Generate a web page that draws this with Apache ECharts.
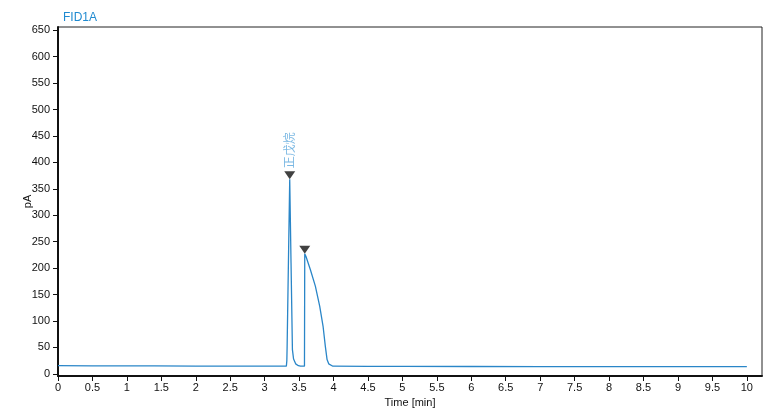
<!DOCTYPE html>
<html>
<head>
<meta charset="utf-8">
<script src="https://cdn.jsdelivr.net/npm/echarts@6/dist/echarts.min.js"></script>
<style>html,body{margin:0;padding:0;background:#fff}#c{width:777px;height:414px}</style>
</head>
<body>
<div id="c"></div>
<script>
// Chromatogram trace (time in min, signal in pA)
var times = [0, 0.5, 1, 1.4, 2, 2.5, 3, 3.315, 3.322, 3.326, 3.345, 3.364, 3.383, 3.403, 3.42, 3.45, 3.49, 3.52, 3.578, 3.582, 3.591, 3.6, 3.664, 3.736, 3.799, 3.848, 3.881, 3.906, 3.93, 3.954, 3.99, 4.5, 5, 6, 7, 8, 9, 10];
var signal = [15.5, 15.3, 15.2, 15.0, 14.8, 14.7, 14.6, 14.5, 25, 50, 210, 368, 210, 46, 28, 19, 15.5, 14.5, 14.5, 227, 225, 222, 197, 166, 128, 90, 52, 27, 19, 15.7, 14.5, 14.3, 14.2, 14.0, 13.9, 13.8, 13.7, 13.6];
// Peak apex markers
var peakTimes = [3.364, 3.582];
var peakValues = [368, 227];
var peakNames = ['正戊烷', ''];
// Axis ticks
var xTicks = [0, 0.5, 1, 1.5, 2, 2.5, 3, 3.5, 4, 4.5, 5, 5.5, 6, 6.5, 7, 7.5, 8, 8.5, 9, 9.5, 10];
var yTicks = [0, 50, 100, 150, 200, 250, 300, 350, 400, 450, 500, 550, 600, 650];

var trace = times.map(function (t, i) { return [t, signal[i]]; });
var peaks = peakTimes.map(function (t, i) { return { value: [t, peakValues[i]], name: peakNames[i] }; });

var chart = echarts.init(document.getElementById('c'));
var font = 'Liberation Sans, Arial, sans-serif';
chart.setOption({
  animation: false,
  title: {
    text: 'FID1A', left: 58, top: 7,
    textStyle: { fontSize: 12, fontWeight: 'normal', color: '#1f8ad0', fontFamily: font }
  },
  grid: { left: 58, right: 15, top: 27, bottom: 38, containLabel: false, outerBoundsMode: 'none',
          show: true, borderColor: '#222', borderWidth: 1 },
  xAxis: {
    type: 'value', min: 0, max: 10.22,
    name: 'Time [min]', nameLocation: 'middle', nameGap: 21, nameMoveOverlap: false,
    nameTextStyle: { fontSize: 11, color: '#111', fontFamily: font },
    splitLine: { show: false },
    axisLine: { show: true, onZero: false, lineStyle: { color: '#111', width: 2 } },
    axisTick: { show: true, length: 5, customValues: xTicks, lineStyle: { color: '#111', width: 1 } },
    axisLabel: { customValues: xTicks, margin: 6, fontSize: 11, color: '#111', fontFamily: font }
  },
  yAxis: {
    type: 'value', min: -4, max: 656,
    name: 'pA', nameLocation: 'middle', nameGap: 25, nameRotate: 90, nameMoveOverlap: false,
    nameTextStyle: { fontSize: 11, color: '#111', fontFamily: font },
    splitLine: { show: false },
    axisLine: { show: true, onZero: false, lineStyle: { color: '#111', width: 2 } },
    axisTick: { show: true, length: 5, customValues: yTicks, lineStyle: { color: '#111', width: 1 } },
    axisLabel: { customValues: yTicks, margin: 8, fontSize: 11, color: '#111', fontFamily: font }
  },
  series: [
    {
      type: 'line', data: trace, showSymbol: false, symbol: 'none',
      lineStyle: { color: '#2a86c8', width: 1.3 }, z: 2
    },
    {
      type: 'scatter', data: peaks,
      symbol: 'triangle', symbolRotate: 180, symbolSize: [11, 8], symbolOffset: [0, -4],
      itemStyle: { color: '#111' }, z: 3,
      label: {
        show: true, position: 'top', distance: 3, rotate: 90,
        align: 'left', verticalAlign: 'middle',
        formatter: function (p) { return p.name; },
        fontSize: 12, color: '#5aa6dc', fontFamily: 'Noto Sans CJK SC'
      }
    }
  ]
});
</script>
</body>
</html>
